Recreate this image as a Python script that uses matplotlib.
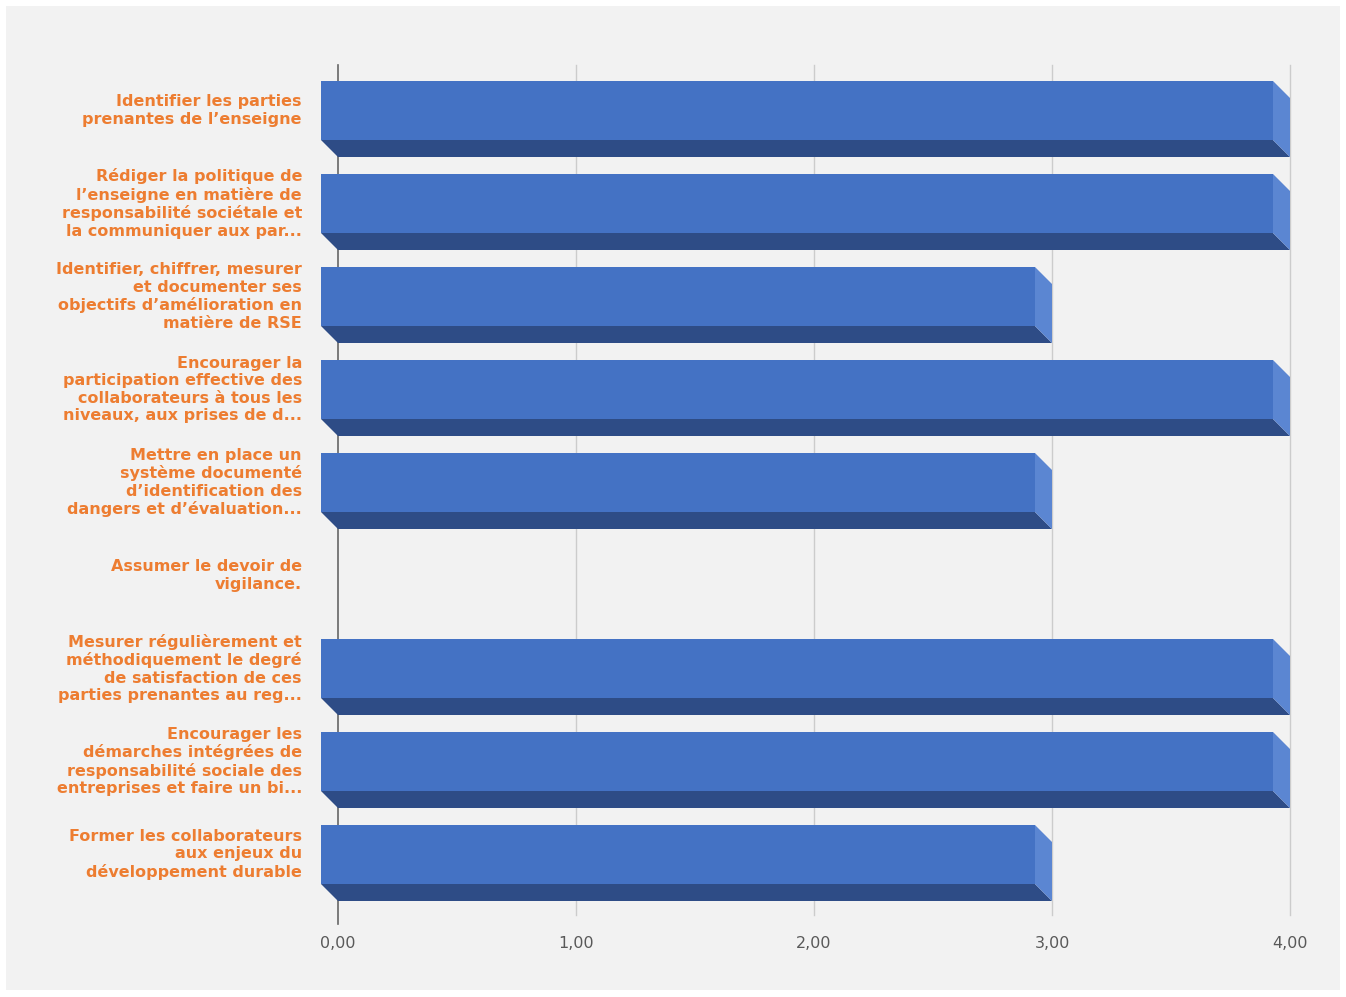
import numpy as np
import matplotlib.pyplot as plt
from matplotlib.patches import Polygon, Rectangle

labels = [
    "Identifier les parties\nprenantes de l’enseigne",
    "Rédiger la politique de\nl’enseigne en matière de\nresponsabilité sociétale et\nla communiquer aux par...",
    "Identifier, chiffrer, mesurer\net documenter ses\nobjectifs d’amélioration en\nmatière de RSE",
    "Encourager la\nparticipation effective des\ncollaborateurs à tous les\nniveaux, aux prises de d...",
    "Mettre en place un\nsystème documenté\nd’identification des\ndangers et d’évaluation...",
    "Assumer le devoir de\nvigilance.",
    "Mesurer régulièrement et\nméthodiquement le degré\nde satisfaction de ces\nparties prenantes au reg...",
    "Encourager les\ndémarches intégrées de\nresponsabilité sociale des\nentreprises et faire un bi...",
    "Former les collaborateurs\naux enjeux du\ndéveloppement durable",
]
values = [4, 4, 3, 4, 3, 0, 4, 4, 3]
xticks = [0, 1, 2, 3, 4]
xtick_labels = ["0,00", "1,00", "2,00", "3,00", "4,00"]

W, H = 1346, 997
BG = "#f2f2f2"
FRONT = "#4472c4"
SIDE = "#5b86d2"
BOTTOM = "#2e4c86"
ORANGE = "#ed7d31"

fig = plt.figure(figsize=(W / 100, H / 100), dpi=100)
fig.patch.set_facecolor("white")
fig.patches.append(Rectangle((6 / W, 1 - 990 / H), (1340 - 6) / W, (990 - 6) / H,
                             transform=fig.transFigure, facecolor=BG,
                             edgecolor="none", zorder=-5))

# plot area in pixels: x 338..1290, y 65..915
left, right, top, bottom = 338, 1290, 65, 915
ax = fig.add_axes([left / W, 1 - bottom / H, (right - left) / W, (bottom - top) / H])
ax.set_zorder(2)
ax.set_facecolor(BG)
ax.set_xlim(0, 4)
row_px = 93.0
y_top = (top - 110.5) / row_px
y_bot = (bottom - 110.5) / row_px
ax.set_ylim(y_bot, y_top)

for s in ax.spines.values():
    s.set_visible(False)

for x in xticks[1:]:
    ax.axvline(x, color="#cccccc", lw=1, zorder=1, clip_on=False)
ax.plot([0, 0], [y_top, y_bot + 0.1], color="#666666", lw=1.2, zorder=1, clip_on=False)

# depth offsets of the 3D bar (front face shifted left/up from the wall)
dx = 17 / 238.0
dy = 17 / row_px
hh = 29.5 / row_px

for i, v in enumerate(values):
    if v <= 0:
        continue
    x0f, x1f = -dx, v - dx
    yt, yb = i - hh, i + hh
    # bottom face
    ax.add_patch(Polygon([(x0f, yb), (x1f, yb), (v, yb + dy), (0, yb + dy)],
                         closed=True, facecolor=BOTTOM, edgecolor="none",
                         zorder=3, clip_on=False))
    # right side face
    ax.add_patch(Polygon([(x1f, yt), (v, yt + dy), (v, yb + dy), (x1f, yb)],
                         closed=True, facecolor=SIDE, edgecolor="none",
                         zorder=3, clip_on=False))
    # front face
    ax.barh(i, v, left=-dx, height=2 * hh, color=FRONT, zorder=4, clip_on=False)

ax.set_yticks([])
ax.set_xticks([])
for x, t in zip(xticks, xtick_labels):
    ax.text(x, (943 - 110.5) / row_px, t, ha="center", va="center",
            fontsize=11.5, color="#595959", family="DejaVu Sans", clip_on=False)

for i, lab in enumerate(labels):
    ax.text(-(338 - 302) / 238.0, i, lab, ha="right", va="center",
            fontsize=11.5, fontweight="bold", color=ORANGE,
            family="DejaVu Sans", linespacing=1.2, clip_on=False)

fig.savefig("out.png", dpi=100, facecolor=fig.get_facecolor())
